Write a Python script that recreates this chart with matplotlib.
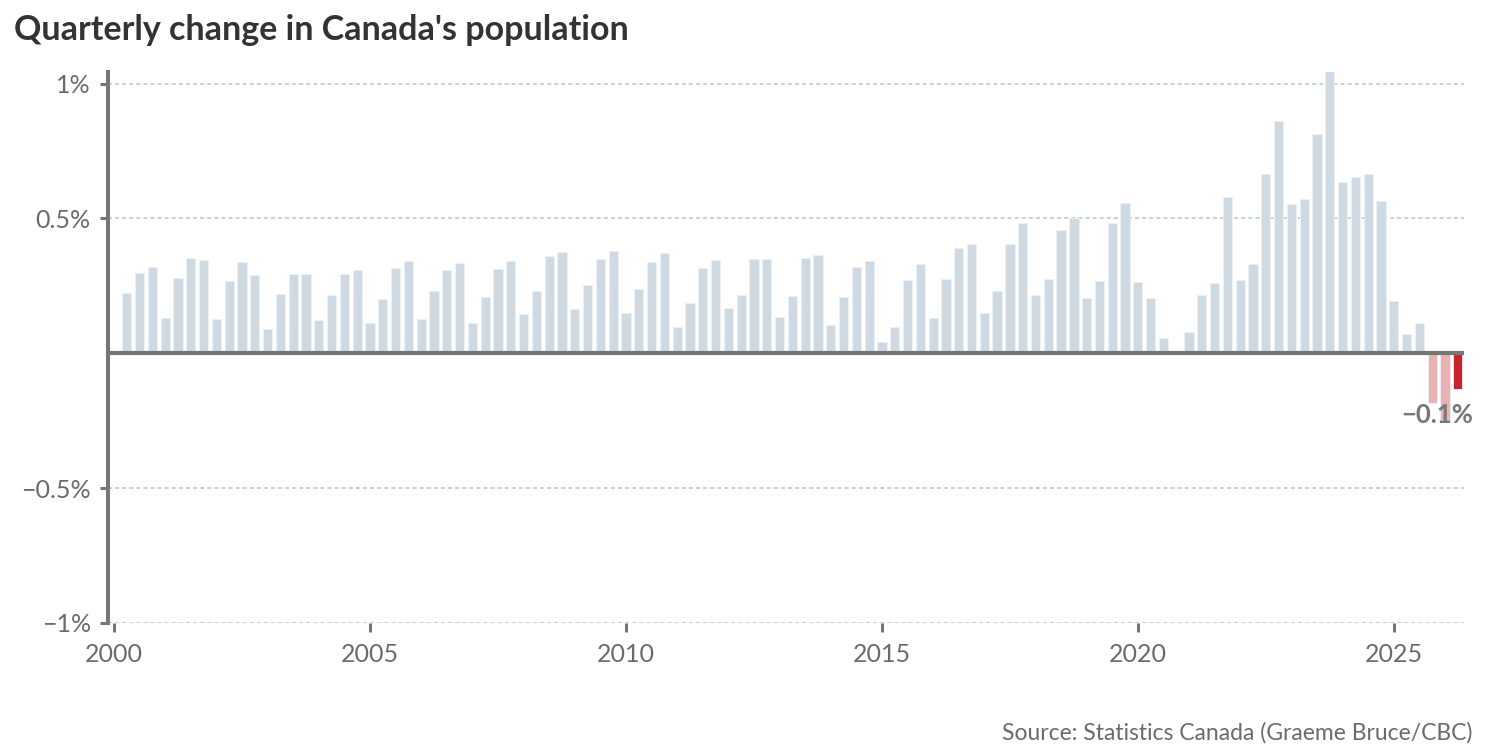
import numpy as np
import matplotlib.pyplot as plt

plt.rcParams["font.family"] = ["Lato", "DejaVu Sans"]
plt.rcParams["lines.scale_dashes"] = False

# quarterly population change, % (first bar is Q2 2000)
start_year = 2000.25
change = [
    0.222, 0.299, 0.320, 0.130, 0.279, 0.354, 0.346, 0.127, 0.268, 0.340,
    0.290, 0.089, 0.220, 0.294, 0.294, 0.123, 0.216, 0.294, 0.310, 0.113,
    0.202, 0.316, 0.342, 0.127, 0.231, 0.309, 0.336, 0.113, 0.207, 0.313,
    0.342, 0.145, 0.232, 0.361, 0.377, 0.163, 0.252, 0.350, 0.381, 0.148,
    0.239, 0.339, 0.372, 0.098, 0.185, 0.316, 0.345, 0.167, 0.218, 0.350,
    0.350, 0.133, 0.212, 0.355, 0.366, 0.104, 0.207, 0.320, 0.341, 0.041,
    0.098, 0.273, 0.332, 0.131, 0.274, 0.390, 0.404, 0.151, 0.230, 0.406,
    0.484, 0.215, 0.275, 0.458, 0.502, 0.206, 0.267, 0.484, 0.557, 0.263,
    0.206, 0.055, 0.010, 0.078, 0.217, 0.259, 0.578, 0.273, 0.331, 0.666,
    0.861, 0.552, 0.573, 0.812, 1.048, 0.636, 0.655, 0.665, 0.563, 0.195,
    0.072, 0.113, -0.183, -0.248, -0.134,
]
y_ticks = [-1, -0.5, 0.5, 1]
y_tick_labels = ["\u22121%", "\u22120.5%", "0.5%", "1%"]
x_ticks = [2000, 2005, 2010, 2015, 2020, 2025]
last_label = "\u22120.1%"

grey = "#cfd9e1"
pink = "#eab2b3"
red = "#c9222a"
axis_grey = "#767676"
text_grey = "#6b6b6b"

x = start_year + 0.25 * np.arange(len(change))
colors = []
for i, v in enumerate(change):
    if i == len(change) - 1:
        colors.append(red)
    elif v < 0:
        colors.append(pink)
    else:
        colors.append(grey)

fig = plt.figure(figsize=(14.94, 7.56), dpi=100)
ax = fig.add_axes([107.5 / 1494, 133 / 756, (1464 - 107.5) / 1494, (623 - 72) / 756])

# dotted gridlines behind the bars
for t in y_ticks:
    ax.axhline(t, color="#bcc3ca", lw=1.1, dashes=(2.9, 2.2), zorder=0)

ax.bar(x, change, width=0.18, color=colors, edgecolor="#eef2f5", linewidth=0.6, zorder=2)
ax.axhline(0, color=axis_grey, lw=3.0, zorder=3, solid_capstyle="butt")

ax.set_xlim(1999.873, 2026.37)
ax.set_ylim(-1, 1.043)

for s in ["top", "right", "bottom"]:
    ax.spines[s].set_visible(False)
ax.spines["left"].set_color(axis_grey)
ax.spines["left"].set_linewidth(2.9)

ax.set_yticks(y_ticks)
ax.set_yticklabels(y_tick_labels)
ax.set_xticks(x_ticks)
ax.set_xticklabels([str(t) for t in x_ticks])
ax.tick_params(axis="y", length=6, width=2.2, color=axis_grey, pad=6,
               labelsize=18, labelcolor=text_grey)
ax.tick_params(axis="x", length=6.5, width=2.2, color=axis_grey, pad=8,
               labelsize=18, labelcolor=text_grey)

# label for the latest quarter
ax.annotate(last_label, xy=(x[-1], change[-1]), xytext=(-15, -10),
            textcoords="offset points", ha="center", va="top",
            fontsize=18.5, fontweight="bold", color="#777777", zorder=5)

fig.text(14 / 1494, 1 - 30 / 756, "Quarterly change in Canada's population",
         fontsize=24.5, fontweight="bold", color="#333333", va="center", ha="left")
fig.text(1472 / 1494, 1 - 733 / 756, "Source: Statistics Canada (Graeme Bruce/CBC)",
         fontsize=16.5, color="#6b6b6b", va="center", ha="right")

fig.savefig("out.png", dpi=100)
